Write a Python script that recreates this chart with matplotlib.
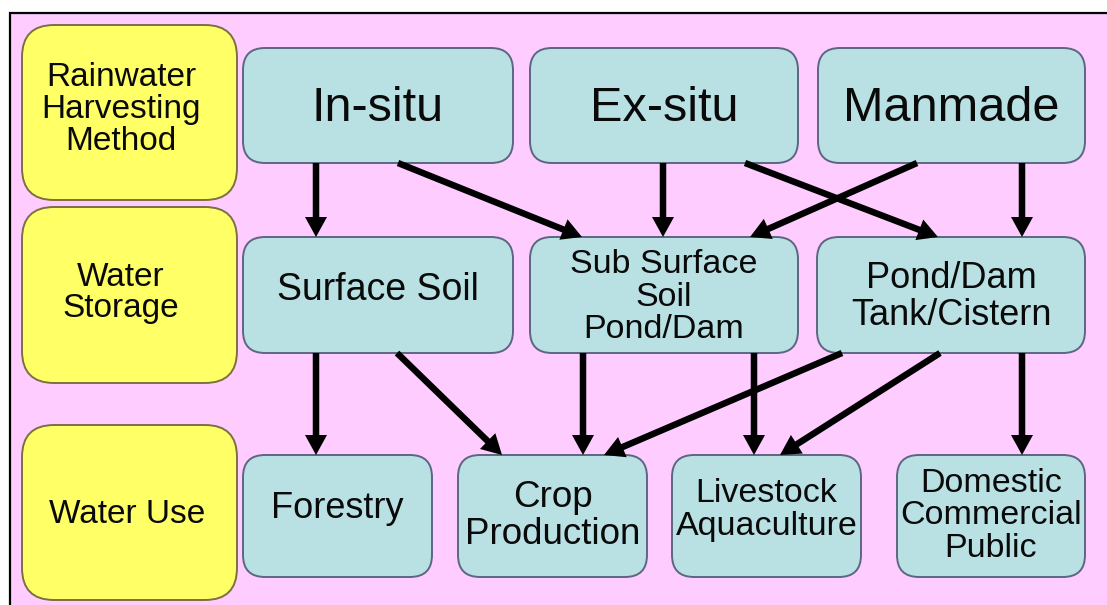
import matplotlib
matplotlib.use('Agg')
import matplotlib.pyplot as plt
from matplotlib.patches import FancyBboxPatch, Rectangle

plt.rcParams['font.family'] = ['Liberation Sans', 'DejaVu Sans']

# data: row titles, node labels, links between rows
row_titles = ['Rainwater\nHarvesting\nMethod', 'Water\nStorage', 'Water Use']
methods = ['In-situ', 'Ex-situ', 'Manmade']
storage = ['Surface Soil', 'Sub Surface\nSoil\nPond/Dam', 'Pond/Dam\nTank/Cistern']
uses = ['Forestry', 'Crop\nProduction', 'Livestock\nAquaculture', 'Domestic\nCommercial\nPublic']
method_to_storage = [(0, 0), (0, 1), (1, 1), (1, 2), (2, 1), (2, 2)]
storage_to_use = [(0, 0), (0, 1), (1, 1), (1, 2), (2, 1), (2, 2), (2, 3)]

# layout (pixel coords, y down)
title_x = (22, 237)
title_y = [(25, 200), (207, 383), (425, 600)]
title_text_x = [121, 121, 127]
title_text_dy = [-3, -2, 2]
method_x = [(243, 513), (530, 798), (818, 1085)]
method_y = (48, 163)
method_text_dy = 3
storage_x = [(243, 513), (530, 798), (817, 1085)]
storage_y = (237, 353)
use_x = [(243, 432), (458, 647), (672, 861), (897, 1085)]
use_y = (455, 577)
storage_text_dy = [-5, 2, 2]
use_text_dy = [-7, 0, -6, 0]
# arrow x at start (bottom of source) and end (top of target)
ms_arrow_x = [(316, 316), (398, 582), (663, 663), (745, 938), (917, 750), (1022, 1022)]
su_arrow_x = [(316, 316), (397, 502), (583, 583), (754, 754), (842, 604), (940, 780), (1022, 1022)]

pink = '#ffccff'
yellow = '#ffff66'
teal = '#b9e1e4'
teal_edge = '#5c6680'
yellow_edge = '#7d6f45'

fig = plt.figure(figsize=(11.07, 6.05), dpi=100)
ax = fig.add_axes([0, 0, 1, 1])
ax.set_xlim(0, 1107)
ax.set_ylim(605, 0)
ax.axis('off')

# pink frame
ax.add_patch(Rectangle((10, 13), 1110, 600, facecolor=pink, edgecolor='black', linewidth=1.6))


def box(x0, x1, y0, y1, label, fc, ec, size, ty=None, tx=None, r=22, ls=1.08):
    ax.add_patch(FancyBboxPatch((x0, y0), x1 - x0, y1 - y0,
                                boxstyle='round,pad=0,rounding_size=%d' % r,
                                facecolor=fc, edgecolor=ec, linewidth=1.4))
    if tx is None:
        tx = (x0 + x1) / 2
    if ty is None:
        ty = (y0 + y1) / 2
    ax.text(tx, ty, label, ha='center', va='center', fontsize=size,
            color='#0a0a0a', linespacing=ls)


for i, t in enumerate(row_titles):
    box(title_x[0], title_x[1], title_y[i][0], title_y[i][1], t, yellow, yellow_edge, 24,
        ty=(title_y[i][0] + title_y[i][1]) / 2 + title_text_dy[i], tx=title_text_x[i], r=32,
        ls=1.04)

for i, t in enumerate(methods):
    box(method_x[i][0], method_x[i][1], method_y[0], method_y[1], t, teal, teal_edge, 35,
        ty=(method_y[0] + method_y[1]) / 2 + method_text_dy)

storage_size = [27, 24.5, 26]
for i, t in enumerate(storage):
    box(storage_x[i][0], storage_x[i][1], storage_y[0], storage_y[1], t, teal, teal_edge,
        storage_size[i], ty=(storage_y[0] + storage_y[1]) / 2 + storage_text_dy[i])

use_size = [26, 26.5, 24.5, 24.5]
for i, t in enumerate(uses):
    box(use_x[i][0], use_x[i][1], use_y[0], use_y[1], t, teal, teal_edge,
        use_size[i], ty=(use_y[0] + use_y[1]) / 2 + use_text_dy[i])


def arrow(x0, y0, x1, y1):
    ax.arrow(x0, y0, x1 - x0, y1 - y0, width=6.5, head_width=22, head_length=20,
             length_includes_head=True, facecolor='black', edgecolor='black', linewidth=0)


for k, (s, d) in enumerate(method_to_storage):
    arrow(ms_arrow_x[k][0], method_y[1], ms_arrow_x[k][1], storage_y[0])

for k, (s, d) in enumerate(storage_to_use):
    arrow(su_arrow_x[k][0], storage_y[1], su_arrow_x[k][1], use_y[0])

fig.savefig('out.png', dpi=100)
